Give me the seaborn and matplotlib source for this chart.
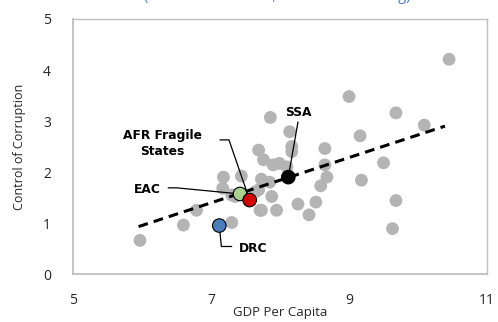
import numpy as np
import pandas as pd
import matplotlib
matplotlib.use("Agg")
import matplotlib.pyplot as plt
import seaborn as sns

# gray country points (GDP per capita, log; control of corruption)
gdp = [5.97, 6.60, 6.79, 7.30, 7.18, 7.44, 7.17, 7.35, 7.69, 7.73,
       7.86, 7.71, 7.76, 10.45, 9.00, 9.68, 8.14, 10.09, 9.16, 8.17,
       8.17, 8.65, 7.90, 7.99, 8.10, 8.65, 9.50, 8.68, 8.59, 9.18,
       7.69, 7.88, 7.64, 7.73, 7.95, 8.26, 8.52, 8.42, 9.68, 9.63,
       7.30, 7.85]
corruption = [0.66, 0.96, 1.25, 1.01, 1.90, 1.92, 1.68, 1.52, 2.43, 1.86,
              3.07, 1.25, 2.24, 4.21, 3.48, 3.16, 2.79, 2.92, 2.71, 2.50,
              2.40, 2.46, 2.14, 2.17, 2.10, 2.14, 2.18, 1.90, 1.73, 1.84,
              1.65, 1.52, 1.61, 1.25, 1.25, 1.37, 1.41, 1.16, 1.44, 0.89,
              1.55, 1.80]

# highlighted groups
groups = ["EAC", "AFR Fragile\nStates", "DRC", "SSA"]
group_gdp = [7.42, 7.56, 7.12, 8.12]
group_cc = [1.57, 1.45, 0.95, 1.90]
group_colors = ["#a9d18e", "#d40000", "#4a7ebb", "#000000"]

# fitted trend line end points
trend_x = [5.95, 10.39]
trend_y = [0.93, 2.90]

sns.set_theme(style="white")
plt.rcParams['font.family'] = ['Open Sans', 'DejaVu Sans']

fig = plt.figure(figsize=(4.98, 3.22), dpi=100)
ax = fig.add_axes([0.1466, 0.149, 0.8314, 0.792])

df = pd.DataFrame({'gdp': gdp, 'cc': corruption})
sns.scatterplot(data=df, x='gdp', y='cc', ax=ax, color='#b4b4b4', s=85,
                edgecolor='none', zorder=2)
sns.lineplot(x=trend_x, y=trend_y, ax=ax, color='black', lw=2.2,
             linestyle=(0, (3.2, 2)), zorder=3)

gdf = pd.DataFrame({'gdp': group_gdp, 'cc': group_cc, 'g': groups})
sns.scatterplot(data=gdf, x='gdp', y='cc', hue='g', palette=group_colors,
                ax=ax, s=95, edgecolor='black', linewidth=0.8, zorder=5,
                legend=False)

# annotations with elbow connectors
bold = dict(fontsize=8.8, fontweight='bold', color='black', ha='center',
            va='center', family=['DejaVu Sans'])
ax.text(8.26, 3.16, "SSA", **bold)
ax.plot([8.26, 8.12], [2.98, 1.90], color='black', lw=0.9, zorder=4)

ax.text(6.29, 2.56, "AFR Fragile\nStates", linespacing=1.3, **bold)
ax.plot([7.13, 7.26, 7.56], [2.63, 2.63, 1.45], color='black', lw=0.9, zorder=4)

ax.text(6.08, 1.66, "EAC", **bold)
ax.plot([6.38, 6.50, 7.42], [1.69, 1.69, 1.57], color='black', lw=0.9, zorder=4)

ax.text(7.61, 0.50, "DRC", **bold)
ax.plot([7.12, 7.15, 7.30], [0.95, 0.54, 0.54], color='black', lw=0.9, zorder=4)

ax.set_xlim(5, 11)
ax.set_ylim(0, 5)
ax.set_xticks([5, 7, 9, 11])
ax.set_yticks([0, 1, 2, 3, 4, 5])
ax.tick_params(axis='x', direction='in', length=4, color='#bfbfbf',
               pad=14, labelsize=10)
ax.tick_params(axis='y', direction='in', length=4, color='#bfbfbf',
               pad=16, labelsize=10)
ax.set_xlabel("GDP Per Capita", fontsize=9.5, labelpad=-2)
ax.set_ylabel("Control of Corruption", fontsize=9, labelpad=12)
for side in ['left', 'bottom', 'top', 'right']:
    ax.spines[side].set_color('#bfbfbf')
    ax.spines[side].set_linewidth(1.0)
ax.spines['left'].set_linewidth(1.3)
ax.spines['bottom'].set_linewidth(1.3)

# title, cut off at the top of the image as in the source
fig.text(0.557, 0.999, "(Governance Index, Percentile Ranking)", fontsize=10.5,
         color='#4f81bd', ha='center', va='baseline')

fig.savefig("out.png", dpi=100)
